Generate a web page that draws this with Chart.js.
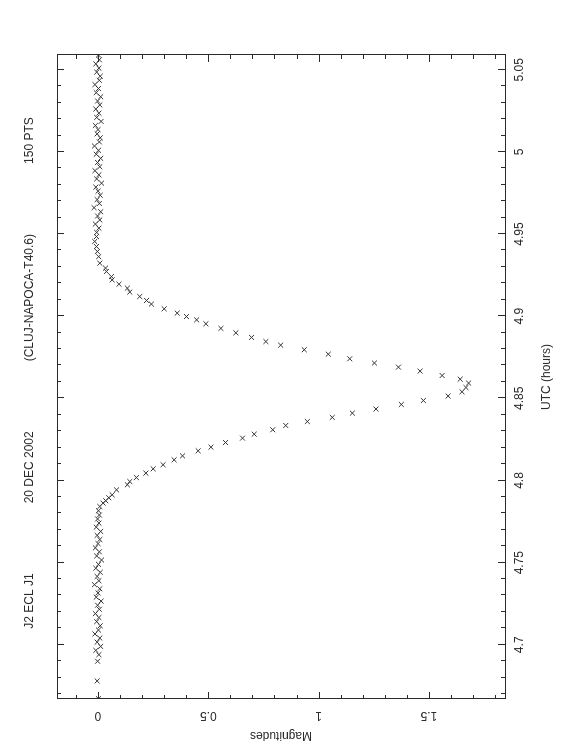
<!DOCTYPE html>
<html>
<head>
<meta charset="utf-8">
<script src="https://cdn.jsdelivr.net/npm/chart.js@4.4.0/dist/chart.umd.min.js"></script>
<style>
html, body { margin: 0; padding: 0; background: #fff; overflow: hidden; }
/* the plot is drawn landscape and turned a quarter to the left, like the printout */
#wrap {
    position: absolute; left: 0; top: 0;
    width: 756px; height: 562px;
    transform-origin: 0 0;
    transform: translateY(756px) rotate(-90deg);
}
</style>
</head>
<body>
<div id="wrap"><canvas id="lc" width="756" height="562"></canvas></div>
<script>
// UTC (hours) of each measurement
const utc = [
    4.6672, 4.6780, 4.6900,
    4.6940, 4.6966, 4.6990, 4.7016, 4.7041, 4.7066, 4.7090, 4.7116, 4.7141, 4.7166,
    4.7190, 4.7216, 4.7241, 4.7266, 4.7290, 4.7316, 4.7341, 4.7366, 4.7390, 4.7416,
    4.7441, 4.7466, 4.7490, 4.7516, 4.7541, 4.7566, 4.7590, 4.7616, 4.7641, 4.7666,
    4.7690, 4.7716, 4.7741, 4.7766, 4.7790, 4.7816,
    4.7842, 4.7863, 4.7877, 4.7895, 4.7913, 4.7943, 4.7974, 4.7994, 4.8018, 4.8045,
    4.8071, 4.8096, 4.8126, 4.8150, 4.8181, 4.8203, 4.8231, 4.8258, 4.8282, 4.8309,
    4.8335, 4.8359, 4.8384, 4.8410, 4.8435, 4.8463, 4.8487, 4.8514, 4.8540, 4.8566,
    4.8593, 4.8617, 4.8639, 4.8666, 4.8690, 4.8715, 4.8741, 4.8769, 4.8796, 4.8824,
    4.8846, 4.8871, 4.8899, 4.8926, 4.8954, 4.8978, 4.8998, 4.9019, 4.9045, 4.9074,
    4.9096, 4.9120, 4.9147, 4.9171, 4.9195, 4.9221, 4.9241, 4.9272, 4.9293, 4.9323,
    4.9363, 4.9394, 4.9424, 4.9455, 4.9485,
    4.9510, 4.9536, 4.9561, 4.9586, 4.9610, 4.9636, 4.9661, 4.9686, 4.9710, 4.9736,
    4.9761, 4.9786, 4.9810, 4.9836, 4.9861, 4.9886, 4.9910, 4.9936, 4.9961, 4.9986,
    5.0010, 5.0036, 5.0061, 5.0086, 5.0110, 5.0136, 5.0161, 5.0186, 5.0210, 5.0236,
    5.0261, 5.0286, 5.0310, 5.0336, 5.0361, 5.0386, 5.0410, 5.0436, 5.0461, 5.0486,
    5.0510, 5.0536, 5.0561, 5.0590
];

// differential magnitude, same order as utc
const mag = [
    0.002, -0.004, -0.002,
    0.004, -0.010, 0.012, -0.004, 0.008, -0.014, 0.002, 0.010, -0.006, 0.004,
    -0.012, 0.006, -0.002, 0.014, -0.008, 0.000, 0.008, -0.016, 0.004, -0.004,
    0.010, -0.010, 0.002, 0.016, -0.006, 0.006, -0.012, 0.000, 0.008, -0.004,
    0.012, -0.008, 0.004, -0.002, 0.006, 0.002,
    0.008, 0.023, 0.035, 0.049, 0.064, 0.084, 0.133, 0.144, 0.174, 0.217,
    0.250, 0.295, 0.345, 0.383, 0.454, 0.512, 0.578, 0.655, 0.708, 0.792,
    0.851, 0.949, 1.062, 1.153, 1.260, 1.375, 1.475, 1.587, 1.650, 1.668,
    1.680, 1.642, 1.560, 1.460, 1.362, 1.253, 1.141, 1.044, 0.935, 0.828,
    0.761, 0.696, 0.625, 0.557, 0.489, 0.447, 0.401, 0.359, 0.300, 0.242,
    0.220, 0.189, 0.144, 0.133, 0.095, 0.064, 0.061, 0.038, 0.034, 0.008,
    0.003, -0.003, -0.007, -0.015, -0.007,
    -0.006, 0.004, -0.012, 0.008, -0.002, 0.012, -0.018, 0.006, -0.004, 0.010,
    0.000, -0.010, 0.016, -0.006, 0.004, -0.014, 0.008, -0.002, 0.012, -0.008,
    0.002, -0.016, 0.006, 0.010, -0.004, 0.000, -0.012, 0.014, -0.006, 0.004,
    -0.010, 0.008, -0.002, 0.012, -0.008, 0.002, -0.014, 0.006, 0.010, -0.006,
    0.004, -0.010, 0.006, 0.002
];

const utcTicks = [4.7, 4.75, 4.8, 4.85, 4.9, 4.95, 5, 5.05];
const magTicks = [0, 0.5, 1, 1.5];
const titleParts = ["J2 ECL J1", "20 DEC 2002", "(CLUJ-NAPOCA-T40.6)", "150 PTS"];
const xTitle = "UTC (hours)";
const yTitle = "Magnitudes";

const ink = "#2a2a2a";
const font = "12px 'Liberation Sans', Arial, sans-serif";

const points = utc.map((t, i) => ({ x: t, y: mag[i] }));

// frame, inward ticks on all four sides and all the text
const pgFrame = {
    id: "pgFrame",
    afterDraw(chart)
    {
        const ctx = chart.ctx;
        const a = chart.chartArea;
        const sx = chart.scales.x;
        const sy = chart.scales.y;

        ctx.save();
        ctx.strokeStyle = ink;
        ctx.lineWidth = 1;
        ctx.strokeRect(Math.round(a.left) + 0.5, Math.round(a.top) + 0.5,
                       Math.round(a.right - a.left), Math.round(a.bottom - a.top));

        const tickX = (v, len) => {
            const px = Math.round(sx.getPixelForValue(v)) + 0.5;
            ctx.beginPath();
            ctx.moveTo(px, a.bottom); ctx.lineTo(px, a.bottom - len);
            ctx.moveTo(px, a.top);    ctx.lineTo(px, a.top + len);
            ctx.stroke();
        };
        const tickY = (v, len) => {
            const py = Math.round(sy.getPixelForValue(v)) + 0.5;
            ctx.beginPath();
            ctx.moveTo(a.left, py);  ctx.lineTo(a.left + len, py);
            ctx.moveTo(a.right, py); ctx.lineTo(a.right - len, py);
            ctx.stroke();
        };

        for(let k = 467; k <= 505; k += 1)
        {
            const v = k / 100;
            tickX(v, k % 5 === 0 ? 7 : 4);
        }
        for(let k = -1; k <= 18; k += 1)
        {
            const v = k / 10;
            tickY(v, k % 5 === 0 ? 7 : 4);
        }

        ctx.fillStyle = ink;
        ctx.font = font;
        ctx.textAlign = "center";
        ctx.textBaseline = "middle";

        utcTicks.forEach(v => {
            ctx.fillText(String(v), sx.getPixelForValue(v), a.bottom + 15);
        });
        ctx.fillText(xTitle, (a.left + a.right) / 2, a.bottom + 42);

        magTicks.forEach(v => {
            ctx.save();
            ctx.translate(a.left - 16, sy.getPixelForValue(v));
            ctx.rotate(-Math.PI / 2);
            ctx.fillText(String(v), 0, 0);
            ctx.restore();
        });
        ctx.save();
        ctx.translate(a.left - 36, (a.top + a.bottom) / 2);
        ctx.rotate(-Math.PI / 2);
        ctx.fillText(yTitle, 0, 0);
        ctx.restore();

        // title pieces spread over the top as one centred line
        const gap = 70;
        const widths = titleParts.map(s => ctx.measureText(s).width);
        const total = widths.reduce((s, w) => s + w, 0) + gap * (titleParts.length - 1);
        let x = (a.left + a.right) / 2 + 4 - total / 2;
        ctx.textAlign = "left";
        titleParts.forEach((s, i) => {
            ctx.fillText(s, x, a.top - 27);
            x += widths[i] + gap;
        });
        ctx.restore();
    }
};

new Chart(document.getElementById("lc"),
{
    type: "scatter",
    data:
    {
        datasets:
        [{
            data: points,
            pointStyle: "crossRot",
            pointRadius: 3.5,
            pointBorderWidth: 1,
            pointBorderColor: "#333",
            pointBackgroundColor: "#333",
            showLine: false
        }]
    },
    options:
    {
        responsive: false,
        animation: false,
        events: [],
        layout: { padding: { left: 57, right: 55, top: 57, bottom: 57 } },
        plugins: { legend: { display: false }, tooltip: { enabled: false } },
        scales:
        {
            x: { type: "linear", min: 4.667, max: 5.059, display: false },
            y: { type: "linear", min: -0.186, max: 1.845, reverse: true, display: false }
        }
    },
    plugins: [pgFrame]
});
</script>
</body>
</html>
